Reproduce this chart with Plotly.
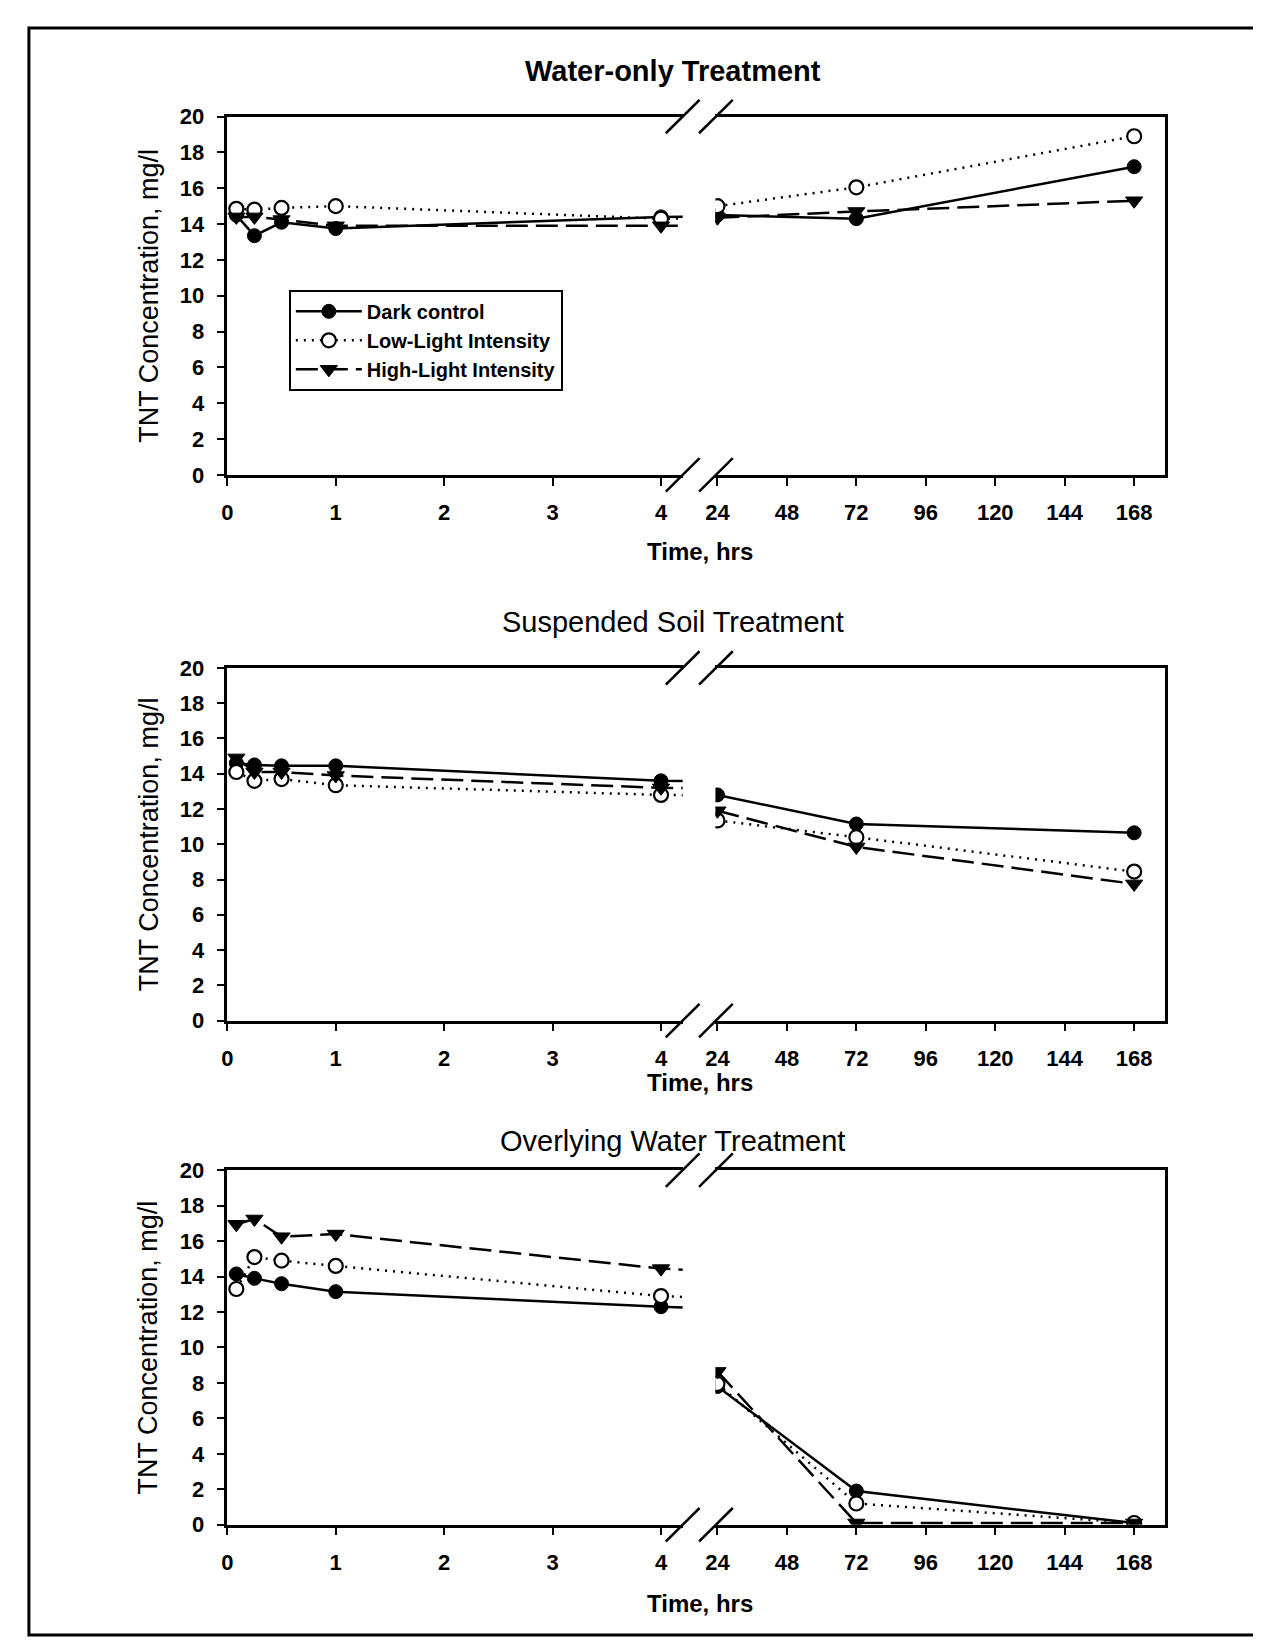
import plotly.graph_objects as go

# ---------------- data ----------------
times = [0.083, 0.25, 0.5, 1, 4, 24, 72, 168]
left_ticks = [0, 1, 2, 3, 4]
right_ticks = [24, 48, 72, 96, 120, 144, 168]
y_ticks = [0, 2, 4, 6, 8, 10, 12, 14, 16, 18, 20]

panel_titles = ["Water-only Treatment", "Suspended Soil Treatment", "Overlying Water Treatment"]
series_names = ["Dark control", "Low-Light Intensity", "High-Light Intensity"]

water_dark = [14.5, 13.35, 14.1, 13.75, 14.4, 14.5, 14.3, 17.2]
water_low = [14.85, 14.8, 14.9, 15.0, 14.3, 15.0, 16.05, 18.9]
water_high = [14.4, 14.4, 14.25, 13.9, 13.9, 14.35, 14.7, 15.3]

soil_dark = [14.6, 14.5, 14.45, 14.45, 13.6, 12.8, 11.15, 10.65]
soil_low = [14.1, 13.6, 13.7, 13.35, 12.8, 11.35, 10.4, 8.45]
soil_high = [14.9, 14.1, 14.1, 13.9, 13.2, 11.9, 9.85, 7.75]

over_dark = [14.15, 13.9, 13.6, 13.15, 12.3, 7.8, 1.9, 0.1]
over_low = [13.3, 15.1, 14.9, 14.6, 12.9, 7.95, 1.2, 0.1]
over_high = [16.95, 17.25, 16.25, 16.4, 14.45, 8.65, 0.1, 0.1]

panels = [
    [water_dark, water_low, water_high],
    [soil_dark, soil_low, soil_high],
    [over_dark, over_low, over_high],
]

# ---------------- layout geometry (pixels) ----------------
W, H = 1261, 1643
FONT = "Liberation Sans, Arial, sans-serif"


def fx(px):
    return px / W


def fy(py):
    return 1 - py / H


XL = (211, 670)
XR = (703, 1156)
PANEL_Y = [(98, 462), (658, 1016), (1168, 1528)]
TITLE_Y = [52, 611, 1138]
XTITLE_Y = [540, 1079, 1608]

styles = [
    dict(line=dict(color="black", width=2.5, dash="solid"),
         marker=dict(symbol="circle", size=14, color="black", line=dict(color="black", width=1))),
    dict(line=dict(color="black", width=2.5, dash="2px,6px"),
         marker=dict(symbol="circle", size=14, color="white", line=dict(color="black", width=2.2))),
    dict(line=dict(color="black", width=2.5, dash="22px,8px"),
         marker=dict(symbol="triangle-down", size=15, color="black", line=dict(color="black", width=1))),
]

fig = go.Figure()
layout = dict(
    width=W, height=H,
    margin=dict(l=0, r=0, t=0, b=0),
    paper_bgcolor="white", plot_bgcolor="white",
    font=dict(family=FONT, color="black"),
    showlegend=True,
    legend=dict(x=fx(273), y=fy(274), xanchor="left", yanchor="top",
                bordercolor="black", borderwidth=2, bgcolor="white",
                font=dict(family=FONT, size=20, weight="bold", color="black"),
                itemwidth=66, tracegroupgap=0),
)

annotations = []
shapes = []
tickfont = dict(family=FONT, size=22, weight="bold", color="black")

for p in range(3):
    top, bot = PANEL_Y[p]
    ydom = [fy(bot), fy(top)]
    iL, iR = 2 * p + 1, 2 * p + 2
    sL = "" if iL == 1 else str(iL)
    sR = str(iR)

    common_x = dict(showline=True, linecolor="black", linewidth=2.5, mirror=True,
                    ticks="outside", ticklen=8, tickwidth=2, tickcolor="black",
                    showgrid=False, zeroline=False, tickfont=tickfont,
                    ticklabelstandoff=8)
    layout["xaxis" + sL] = dict(domain=[fx(XL[0]), fx(XL[1])], range=[0, 4.2],
                                tickvals=left_ticks, anchor="y" + sL, **common_x)
    layout["xaxis" + sR] = dict(domain=[fx(XR[0]), fx(XR[1])], range=[23.3, 178.6],
                                tickvals=right_ticks, anchor="y" + sR, **common_x)
    layout["yaxis" + sL] = dict(domain=ydom, range=[0, 20], tickvals=y_ticks,
                                anchor="x" + sL, showline=True, linecolor="black",
                                linewidth=2.5, mirror=False, ticks="outside",
                                ticklen=8, tickwidth=2, tickcolor="black",
                                showgrid=False, zeroline=False, tickfont=tickfont,
                                ticklabelstandoff=8)
    layout["yaxis" + sR] = dict(domain=ydom, range=[0, 20], anchor="x" + sR,
                                side="right", showline=True, linecolor="black",
                                linewidth=2.5, ticks="", showticklabels=False,
                                showgrid=False, zeroline=False)

    for s in range(3):
        vals = panels[p][s]
        # left segment: includes the 24 h point so the line runs toward the break (clipped)
        fig.add_trace(go.Scatter(
            x=times[:6], y=vals[:6], mode="lines+markers", name=series_names[s],
            xaxis="x" + sL, yaxis="y" + sL, showlegend=(p == 0), legendgroup=series_names[s],
            cliponaxis=True, **styles[s]))
        fig.add_trace(go.Scatter(
            x=times[5:], y=vals[5:], mode="lines+markers", name=series_names[s],
            xaxis="x" + sR, yaxis="y" + sR, showlegend=False, legendgroup=series_names[s],
            cliponaxis=True, **styles[s]))

    # panel title
    annotations.append(dict(text=panel_titles[p], x=fx(660), y=fy(TITLE_Y[p]),
                            xref="paper", yref="paper", showarrow=False,
                            xanchor="center", yanchor="middle",
                            font=dict(family=FONT, size=29, color="black",
                                      weight="bold" if p == 0 else "normal")))
    # y axis title
    annotations.append(dict(text="TNT Concentration, mg/l", x=fx(132), y=fy((top + bot) / 2),
                            xref="paper", yref="paper", showarrow=False, textangle=-90,
                            xanchor="center", yanchor="middle",
                            font=dict(family=FONT, size=27, color="black")))
    # x axis title
    annotations.append(dict(text="Time, hrs", x=fx(687), y=fy(XTITLE_Y[p]),
                            xref="paper", yref="paper", showarrow=False,
                            xanchor="center", yanchor="middle",
                            font=dict(family=FONT, size=24, color="black", weight="bold")))

    # axis break marks
    for cy in (top, bot):
        for cx in (670, 703.5):
            shapes.append(dict(type="line", xref="paper", yref="paper",
                               x0=fx(cx - 17), y0=fy(cy + 17), x1=fx(cx + 17), y1=fy(cy - 17),
                               line=dict(color="black", width=2.5)))

# outer frame
shapes.append(dict(type="rect", xref="paper", yref="paper",
                   x0=fx(11), x1=fx(1257), y0=fy(1640), y1=fy(8),
                   line=dict(color="black", width=3)))

layout["annotations"] = annotations
layout["shapes"] = shapes
fig.update_layout(**layout)
fig.write_html("out.html")
